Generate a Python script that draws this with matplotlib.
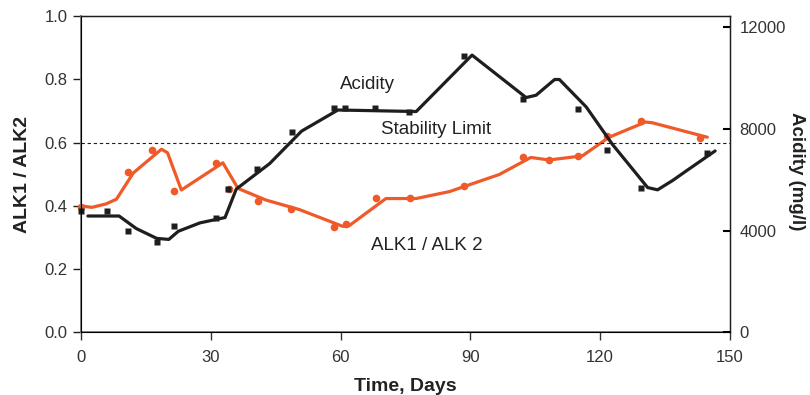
import matplotlib.pyplot as plt

plt.rcParams['font.family'] = ['Liberation Sans', 'DejaVu Sans']

# acidity (mg/l) - measured points and fitted line
acid_days = [0, 6, 10.8, 17.5, 21.5, 31.1, 34, 40.7, 48.7, 58.4, 61.1, 68, 75.8,
             88.5, 102.1, 114.9, 121.5, 129.5, 144.8]
acid_vals = [4750, 4750, 4000, 3530, 4160, 4500, 5650, 6420, 7890, 8830, 8830, 8830, 8660,
             10880, 9160, 8780, 7170, 5670, 7040]
acid_line_days = [1.6, 8.8, 12.8, 17.5, 20.3, 22.5, 27.5, 33.3, 35.9, 43.6, 51, 59.4, 77.5,
                  90.4, 102.9, 105.2, 109.5, 110.6, 116.8, 122.9, 131, 133.3, 136.8, 139.9, 146.6]
acid_line_vals = [4570, 4570, 4075, 3690, 3650, 3970, 4300, 4510, 5630, 6630, 7910, 8740, 8680,
                  10900, 9230, 9320, 9940, 9940, 8860, 7380, 5690, 5600, 5970, 6340, 7130]

# ALK1 / ALK2 ratio - measured points and fitted line
alk_days = [0, 10.8, 16.5, 21.5, 31.3, 34.2, 40.9, 48.6, 58.5, 61.3, 68.2, 76.1,
            88.5, 102.1, 108.1, 114.8, 121.7, 129.5, 143]
alk_vals = [0.395, 0.507, 0.576, 0.448, 0.535, 0.452, 0.414, 0.391, 0.333, 0.342, 0.424, 0.424,
            0.462, 0.553, 0.545, 0.558, 0.621, 0.667, 0.614]
alk_line_days = [0.4, 2.5, 5.8, 8.2, 12.1, 18.6, 20, 23.2, 32.8, 36.3, 42.8, 50.5, 60.5, 62,
                 70.5, 77.5, 85.2, 96.7, 104, 108.2, 115.9, 122.1, 130.5, 132, 144.8]
alk_line_vals = [0.399, 0.395, 0.406, 0.421, 0.504, 0.579, 0.568, 0.450, 0.536, 0.455, 0.418,
                 0.388, 0.335, 0.337, 0.423, 0.423, 0.445, 0.499, 0.553, 0.545, 0.558, 0.617,
                 0.665, 0.663, 0.617]

stability = 0.6
orange = '#ef5a28'
black = '#1e1e1e'
grey = '#7a7a7a'

fig = plt.figure(figsize=(8.1, 3.95), dpi=100)
ax = fig.add_axes([0.1, 0.159, 0.801, 0.8])
ax2 = ax.twinx()

ax.plot(alk_line_days, alk_line_vals, color=orange, lw=2.3, solid_capstyle='round')
ax.plot(alk_days, alk_vals, 'o', color=orange, ms=5.5, mec='none', clip_on=False)
ax.axhline(stability, color=black, lw=0.8, ls=(0, (3, 2.5)))

ax2.plot(acid_line_days, acid_line_vals, color=black, lw=2.3, solid_capstyle='round')
ax2.plot(acid_days, acid_vals, 's', color=black, ms=4.5, mec='none', clip_on=False)

ax.set_xlim(0, 150)
ax.set_ylim(0, 1.0)
ax2.set_ylim(0, 12430)
ax.set_xticks([0, 30, 60, 90, 120, 150])
ax.set_yticks([0, 0.2, 0.4, 0.6, 0.8, 1.0])
ax.set_yticklabels(['0.0', '0.2', '0.4', '0.6', '0.8', '1.0'])
ax2.set_yticks([0, 4000, 8000, 12000])

ax.tick_params(axis='both', labelsize=12, colors='#333333', length=6, width=1)
ax.tick_params(axis='x', pad=7)
ax.tick_params(axis='y', color=black)
ax2.tick_params(axis='y', direction='in', length=5, width=1.5, labelsize=12,
                labelcolor='#333333', pad=7)

for s in ['left', 'bottom']:
    ax.spines[s].set_color(grey)
    ax.spines[s].set_linewidth(1.3)
for s in ['right', 'top']:
    ax2.spines[s].set_color(black)
    ax2.spines[s].set_linewidth(1.0)

ax.set_xlabel('Time, Days', fontsize=14, fontweight='bold', color='#222222', labelpad=9)
ax.set_ylabel('ALK1 / ALK2', fontsize=14, fontweight='bold', color='#222222', labelpad=10)
ax2.set_ylabel('Acidity (mg/l)', fontsize=13.5, fontweight='bold', color='#222222',
               rotation=270, va='center')
ax2.yaxis.set_label_coords(1.103, 0.51)

ax.text(59.8, 0.785, 'Acidity', fontsize=13.5, color='#222222', va='center')
ax.text(82, 0.6 + 0.041, 'Stability Limit', fontsize=13.5, color='#222222',
        va='center', ha='center')
ax.text(67, 0.275, 'ALK1 / ALK 2', fontsize=13.5, color='#222222', va='center')

fig.savefig('out.png', dpi=100)
